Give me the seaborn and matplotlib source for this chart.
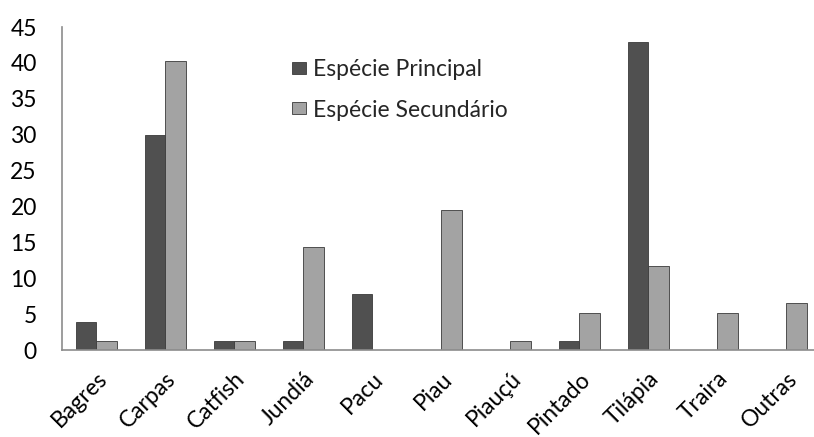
import pandas as pd
import seaborn as sns
import matplotlib.pyplot as plt
from matplotlib.patches import Patch

# dados (%)
especies = ['Bagres', 'Carpas', 'Catfish', 'Jundiá', 'Pacu', 'Piau',
            'Piauçú', 'Pintado', 'Tilápia', 'Traira', 'Outras']
principal = [3.9, 29.9, 1.3, 1.3, 7.8, 0, 0, 1.3, 42.9, 0, 0]
secundario = [1.3, 40.3, 1.3, 14.3, 0, 19.5, 1.3, 5.2, 11.7, 5.2, 6.5]
series = ['Espécie Principal', 'Espécie Secundário']
cores = ['#505050', '#a3a3a3']
y_ticks = [0, 5, 10, 15, 20, 25, 30, 35, 40, 45]

df = pd.DataFrame({
    'especie': especies * 2,
    'valor': principal + secundario,
    'serie': [series[0]] * len(especies) + [series[1]] * len(especies),
})

sns.set_style('white')
plt.rcParams['font.family'] = ['Lato', 'DejaVu Sans']

fig = plt.figure(figsize=(8.14, 4.37), dpi=100)
ax = fig.add_axes([0.076, 0.199, 0.924, 0.739])

sns.barplot(data=df, x='especie', y='valor', hue='serie', order=especies,
            hue_order=series, palette=cores, width=0.6, saturation=1,
            edgecolor='#3a3a3a', linewidth=0.6, legend=False, ax=ax)

# esconde as barras com valor zero
for p in ax.patches:
    if p.get_height() == 0:
        p.set_visible(False)

ax.set_xlim(-0.5, 10.4)
ax.set_ylim(0, 45)
ax.set_yticks(y_ticks)
ax.set_xlabel('')
ax.set_ylabel('')
ax.tick_params(axis='both', length=0, labelsize=16.5, colors='black')
ax.tick_params(axis='y', pad=18)
ax.tick_params(axis='x', pad=13)
plt.setp(ax.get_xticklabels(), rotation=45, ha='right', rotation_mode='anchor')
for s in ['top', 'right']:
    ax.spines[s].set_visible(False)
for s in ['left', 'bottom']:
    ax.spines[s].set_color('#8c8c8c')
    ax.spines[s].set_linewidth(1.2)

handles = [Patch(facecolor=c, edgecolor='#3a3a3a', linewidth=0.6) for c in cores]
ax.legend(handles, series, loc='upper left', bbox_to_anchor=(0.279, 0.965),
          frameon=False, fontsize=16.5, labelspacing=0.85, handlelength=0.6,
          handleheight=0.45, handletextpad=0.3)

plt.savefig('out.png', dpi=100)
